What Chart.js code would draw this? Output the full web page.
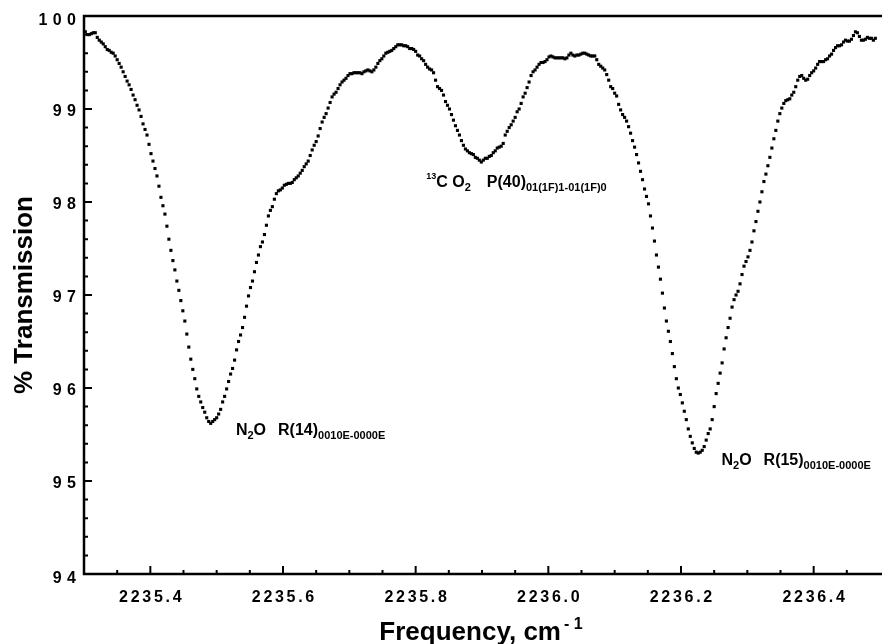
<!DOCTYPE html>
<html><head><meta charset="utf-8">
<script src="https://cdn.jsdelivr.net/npm/chart.js@4.4.1/dist/chart.umd.min.js"></script>
<style>html,body{margin:0;padding:0;background:#fff;}canvas{display:block;}</style>
</head><body>
<canvas id="c" width="882" height="644"></canvas>
<script>
// ---- data ----
const freqStart = 2235.302;   // first sample, cm-1
const freqStep = 0.003;       // sampling interval, cm-1
const transmission = [
 99.83,99.80,99.80,99.81,99.82,99.82,99.77,99.74,99.72,99.70,
 99.67,99.64,99.63,99.61,99.60,99.57,99.53,99.49,99.45,99.40,
 99.35,99.30,99.26,99.21,99.15,99.10,99.04,98.99,98.92,98.84,
 98.78,98.72,98.62,98.52,98.44,98.36,98.28,98.17,98.05,97.96,
 97.87,
 97.74,97.60,97.48,97.37,97.27,97.15,97.05,96.94,96.83,96.72,
 96.58,96.44,96.31,96.20,96.10,95.99,95.91,95.85,95.79,95.74,
 95.68,95.64,95.62,95.64,95.66,95.68,95.72,95.77,95.85,95.91,
 95.99,96.07,96.15,96.21,96.30,96.41,96.50,96.57,96.65,96.76,
 96.88,96.99,97.08,97.15,97.25,97.35,97.43,97.52,97.57,97.65,
 97.75,97.85,97.91,97.95,98.03,98.09,98.12,
 98.13,98.15,98.18,98.19,98.20,98.20,98.21,98.24,98.26,98.28,
 98.31,98.34,98.38,98.41,98.44,98.50,98.56,98.61,98.65,98.71,
 98.79,98.86,98.91,98.95,99.01,99.07,99.13,99.16,99.18,99.22,
 99.26,99.29,99.31,99.33,99.36,99.38,99.38,99.39,99.39,99.39,
 99.39,99.38,99.40,99.41,99.42,99.41,99.40,99.42,99.45,99.49,
 99.52,99.54,99.57,99.60,99.61,99.62,99.63,99.65,99.67,99.69,
 99.69,99.69,99.68,99.68,99.67,99.65,99.65,99.64,99.62,99.58,
 99.57,99.54,99.52,99.48,99.45,99.43,99.42,99.39,99.31,99.24,
 99.22,99.20,99.15,99.08,99.04,99.00,98.94,98.88,98.82,98.77,
 98.72,98.66,98.61,98.57,98.55,98.53,98.52,98.51,98.48,98.47,
 98.45,98.43,98.45,98.47,98.47,98.49,98.50,98.53,98.55,98.58,
 98.59,98.60,98.63,98.72,98.76,98.80,98.83,98.87,98.91,98.97,
 99.00,99.06,99.13,99.17,99.23,99.29,99.36,99.40,99.42,99.45,
 99.48,99.50,99.50,99.51,99.53,99.56,99.57,99.56,99.55,99.55,
 99.55,99.55,99.55,99.54,99.55,99.58,99.60,99.58,99.57,99.58,
 99.58,99.59,99.60,99.60,99.59,99.58,99.57,99.57,99.57,99.53,
 99.48,99.46,99.44,99.42,99.37,99.31,99.24,99.22,99.17,99.14,
 99.05,98.99,98.94,98.91,98.87,98.81,98.74,98.66,98.59,98.51,
 98.42,98.33,98.24,98.14,98.06,97.98,97.85,97.72,97.58,97.43,
 97.30,97.17,97.02,96.86,96.72,96.61,96.50,96.37,96.23,96.10,
 96.00,95.93,95.84,95.75,95.66,95.56,95.48,95.41,95.35,95.31,
 95.30,95.31,95.33,95.37,95.44,95.51,95.56,95.66,95.80,95.94,
 96.05,96.16,96.27,96.42,96.54,96.65,96.75,96.87,96.95,97.00,
 97.04,97.12,97.22,97.31,97.36,97.41,97.48,97.57,97.69,97.79,
 97.90,98.00,98.11,98.22,98.30,98.39,98.48,98.58,98.68,98.77,
 98.87,98.95,99.01,99.06,99.09,
 99.10,99.11,99.15,99.18,99.24,99.31,99.35,99.36,99.33,99.31,
 99.32,99.36,99.39,99.41,99.44,99.48,99.51,99.51,99.51,99.53,
 99.54,99.57,99.59,99.63,99.66,99.68,99.68,99.69,99.72,99.74,
 99.73,99.73,99.75,99.79,99.83,99.82,99.78,99.74,99.74,99.75,
 99.77,99.76,99.76,99.74,99.76
];
const xTickValues = [2235.4, 2235.6, 2235.8, 2236.0, 2236.2, 2236.4];
const xTickLabels = ['2235.4', '2235.6', '2235.8', '2236.0', '2236.2', '2236.4'];
const yTickValues = [94, 95, 96, 97, 98, 99, 100];
const yTickLabels = ['9 4', '9 5', '9 6', '9 7', '9 8', '9 9', '1 0 0'];
const xTitle = 'Frequency, cm';
const xTitleSup = '- 1';
const yTitle = '% Transmission';
const annotationRuns = [
  [{t:'13', s:'sup'}, {t:'C'}, {t:' '}, {t:'O'}, {t:'2', s:'sub'}, {gap:16}, {t:'P(40)'}, {t:'01(1F)1-01(1F)0', s:'sub'}],
  [{t:'N'}, {t:'2', s:'sub'}, {t:'O'}, {gap:12}, {t:'R(14)'}, {t:'0010E-0000E', s:'sub'}],
  [{t:'N'}, {t:'2', s:'sub'}, {t:'O'}, {gap:12}, {t:'R(15)'}, {t:'0010E-0000E', s:'sub'}]
];
const annotationFreq = [2235.816, 2235.529, 2236.261];
const annotationTrans = [98.16, 95.495, 95.172];

// ---- drawing ----
const FONT = "'Liberation Sans', Arial, Helvetica, sans-serif";
const points = transmission.map((t, i) => ({x: freqStart + freqStep * i, y: t}));

function spacedWidth(ctx, text, sp) {
  let w = 0;
  for (const ch of text) w += ctx.measureText(ch).width;
  return w + sp * (text.length - 1);
}
function drawSpaced(ctx, text, x, y, sp, align) {
  const w = spacedWidth(ctx, text, sp);
  let cx = align === 'center' ? x - w / 2 : align === 'right' ? x - w : x;
  ctx.textAlign = 'left';
  for (const ch of text) { ctx.fillText(ch, cx, y); cx += ctx.measureText(ch).width + sp; }
}

const framePlugin = {
  id: 'frame',
  beforeDatasetsDraw(chart) {
    const ctx = chart.ctx, a = chart.chartArea;
    const xs = chart.scales.x, ys = chart.scales.y;
    ctx.save();
    ctx.strokeStyle = '#000';
    ctx.lineWidth = 2.5;
    ctx.beginPath();
    ctx.moveTo(chart.width, a.top); ctx.lineTo(a.left, a.top);
    ctx.lineTo(a.left, a.bottom); ctx.lineTo(chart.width, a.bottom);
    ctx.stroke();
    ctx.lineWidth = 2;
    ctx.beginPath();
    for (let k = 1; k < 24; k++) {
      const v = 2235.3 + k * 0.05;
      const px = xs.getPixelForValue(v);
      if (px > a.right - 1) break;
      const major = k % 4 === 2;
      ctx.moveTo(px, a.bottom); ctx.lineTo(px, a.bottom - (major ? 8 : 4));
    }
    for (let k = 1; k < 30; k++) {
      const v = 94 + k * 0.2;
      const py = ys.getPixelForValue(v);
      const major = k % 5 === 0;
      ctx.moveTo(a.left, py); ctx.lineTo(a.left + (major ? 8 : 4), py);
    }
    ctx.stroke();
    ctx.restore();
  },
  afterDraw(chart) {
    const ctx = chart.ctx, a = chart.chartArea;
    const xs = chart.scales.x, ys = chart.scales.y;
    ctx.save();
    ctx.fillStyle = '#000';
    ctx.textBaseline = 'alphabetic';
    ctx.font = 'bold 16px ' + FONT;
    xTickValues.forEach((v, i) => {
      drawSpaced(ctx, xTickLabels[i], xs.getPixelForValue(v), a.bottom + 28, 2.7, 'center');
    });
    const last = yTickValues.length - 1;
    yTickValues.forEach((v, i) => {
      const dy = (i === 0 || i === last) ? 9 : 6.5;
      drawSpaced(ctx, yTickLabels[i], a.left - 8, ys.getPixelForValue(v) + dy, 0.5, 'right');
    });
    ctx.font = 'bold 26px ' + FONT;
    const w1 = ctx.measureText(xTitle).width;
    ctx.font = 'bold 16px ' + FONT;
    const w2 = ctx.measureText(xTitleSup).width;
    const cx = (a.left + a.right) / 2;
    const sx = cx - (w1 + 3 + w2) / 2;
    ctx.textAlign = 'left';
    ctx.font = 'bold 26px ' + FONT;
    ctx.fillText(xTitle, sx, a.bottom + 66);
    ctx.font = 'bold 16px ' + FONT;
    ctx.fillText(xTitleSup, sx + w1 + 3, a.bottom + 55);
    ctx.save();
    ctx.translate(32, (a.top + a.bottom) / 2);
    ctx.rotate(-Math.PI / 2);
    ctx.font = 'bold 26px ' + FONT;
    ctx.textAlign = 'center';
    ctx.fillText(yTitle, 0, 0);
    ctx.restore();
    annotationRuns.forEach((runs, i) => {
      let x = xs.getPixelForValue(annotationFreq[i]);
      const y = ys.getPixelForValue(annotationTrans[i]);
      ctx.textAlign = 'left';
      runs.forEach(r => {
        if (r.gap) { x += r.gap; return; }
        let dy = 0;
        if (r.s === 'sub') { ctx.font = 'bold 11px ' + FONT; dy = 4; }
        else if (r.s === 'sup') { ctx.font = 'bold 9px ' + FONT; dy = -8; }
        else { ctx.font = 'bold 16px ' + FONT; }
        ctx.fillText(r.t, x, y + dy);
        x += ctx.measureText(r.t).width;
      });
    });
    ctx.restore();
  }
};

new Chart(document.getElementById('c'), {
  type: 'scatter',
  data: {
    datasets: [{
      data: points,
      showLine: false,
      pointStyle: 'rect',
      pointRadius: 2.2,
      pointBorderWidth: 0,
      pointBackgroundColor: '#000',
      pointBorderColor: '#000'
    }]
  },
  options: {
    responsive: false,
    animation: false,
    devicePixelRatio: 1,
    layout: {padding: {top: 16, left: 0, right: 0, bottom: 0}},
    plugins: {legend: {display: false}, tooltip: {enabled: false}},
    scales: {
      x: {
        type: 'linear', min: 2235.3, max: 2236.497,
        ticks: {display: false}, grid: {display: false}, border: {display: false},
        afterFit: s => { s.height = 70; }
      },
      y: {
        type: 'linear', min: 94, max: 100,
        ticks: {display: false}, grid: {display: false}, border: {display: false},
        afterFit: s => { s.width = 84; }
      }
    }
  },
  plugins: [framePlugin]
});
</script>
</body></html>
